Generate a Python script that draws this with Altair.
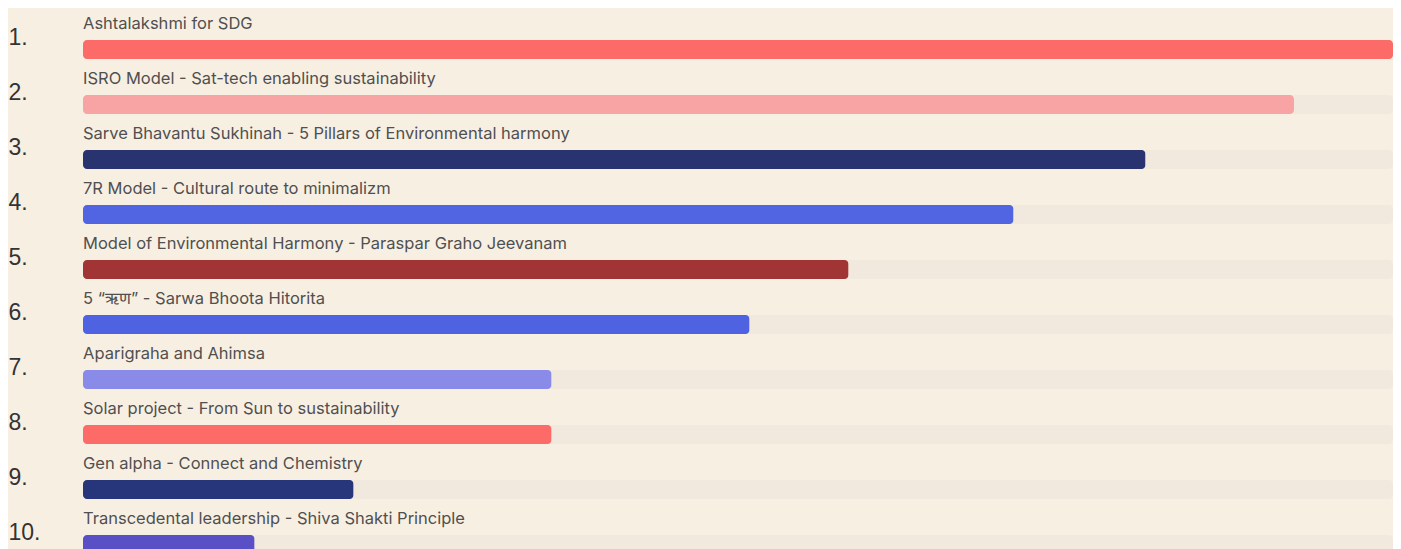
import altair as alt
import pandas as pd

ranks = [1, 2, 3, 4, 5, 6, 7, 8, 9, 10]
titles = [
    "Ashtalakshmi for SDG",
    "ISRO Model - Sat-tech enabling sustainability",
    "Sarve Bhavantu Sukhinah - 5 Pillars of Environmental harmony",
    "7R Model - Cultural route to minimalizm",
    "Model of Environmental Harmony - Paraspar Graho Jeevanam",
    "5 \u201c\u090b\u0923\u201d - Sarwa Bhoota Hitorita",
    "Aparigraha and Ahimsa",
    "Solar project - From Sun to sustainability",
    "Gen alpha - Connect and Chemistry",
    "Transcedental leadership - Shiva Shakti Principle",
]
scores = [39.7, 36.7, 32.2, 28.2, 23.2, 20.2, 14.2, 14.2, 8.2, 5.2]
colors = [
    "#fd6b69", "#f8a4a4", "#28336f", "#5165e3", "#a13434",
    "#4f63e2", "#8a8ae8", "#fd6b69", "#27357b", "#5a50c6",
]
max_score = 39.7

df = pd.DataFrame({
    "rank": ranks,
    "title": titles,
    "score": scores,
    "color": colors,
    "full": [max_score] * len(ranks),
})

H = 541
step = 55
d0 = 1 - 41.5 / step
d1 = d0 + H / step

yscale = alt.Scale(domain=[d0, d1], reverse=True, nice=False, zero=False, padding=0)
xscale = alt.Scale(domain=[0, max_score], nice=False, zero=True, padding=0)

y_axis = alt.Axis(
    values=ranks, labelExpr="datum.value + '.'", domain=False, ticks=False,
    grid=False, title=None, labelAlign="left", labelPadding=75,
    labelFontSize=23, labelFont="Liberation Sans", labelColor="#333333",
    labelOffset=-5, labelBaseline="alphabetic",
)

base = alt.Chart(df)

track = base.mark_bar(orient="horizontal", size=19, cornerRadius=4, color="#f2e9de").encode(
    x=alt.X("full:Q", scale=xscale, axis=None),
    y=alt.Y("rank:Q", scale=yscale, axis=y_axis),
)

bars = base.mark_bar(orient="horizontal", size=19, cornerRadius=4).encode(
    x=alt.X("score:Q", scale=xscale, axis=None),
    y=alt.Y("rank:Q", scale=yscale, axis=y_axis),
    color=alt.Color("color:N", scale=None, legend=None),
)

labels = base.mark_text(
    align="left", baseline="alphabetic", dy=-20.5, font="Inter", fontSize=16.5,
    color="#505050",
).encode(
    x=alt.datum(0),
    y=alt.Y("rank:Q", scale=yscale, axis=y_axis),
    text="title:N",
)

chart = alt.layer(track, bars, labels).properties(
    width=1310,
    height=H,
    padding={"left": 75, "top": 0, "right": 0, "bottom": 0},
    autosize="none",
    background="#f8efe3",
).configure_view(stroke=None)

chart.save("out.html", embed_options={"renderer": "svg", "actions": False})
